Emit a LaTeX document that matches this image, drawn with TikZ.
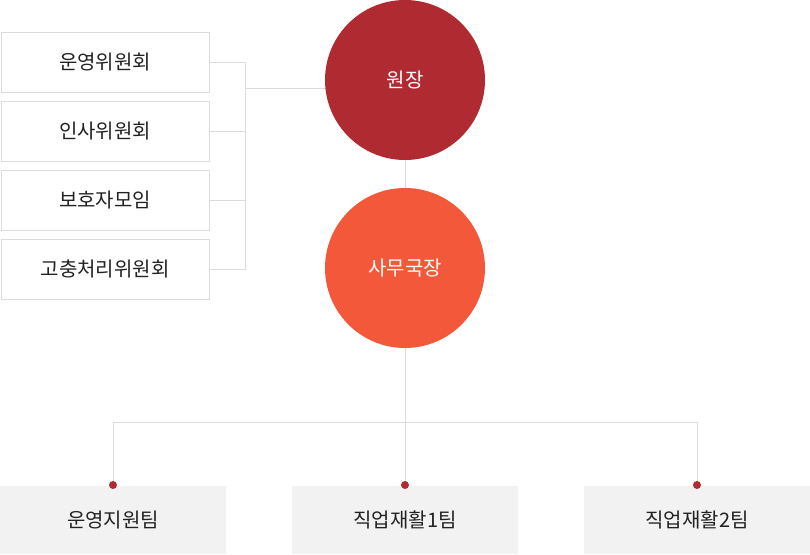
\documentclass[tikz,border=0pt]{standalone}
\usepackage{fontspec}
\setmainfont{Noto Sans CJK KR}
\usetikzlibrary{positioning}
\definecolor{chiefred}{HTML}{B02B31}
\definecolor{officeorange}{HTML}{F4583A}
\definecolor{linegray}{HTML}{DCDCDC}
\definecolor{teamgray}{HTML}{F2F2F2}
\definecolor{textdark}{HTML}{222222}
\tikzset{
  comitbox/.style={draw=linegray, line width=1pt, fill=white, minimum width=208pt, minimum height=60pt, inner sep=0pt, text=textdark, font=\fontsize{20}{24}\selectfont},
  headcircle/.style={circle, minimum size=160pt, inner sep=0pt, text=white, font=\fontsize{20}{24}\selectfont},
  teambox/.style={fill=teamgray, minimum width=226pt, minimum height=68pt, inner sep=0pt, text=textdark, font=\fontsize{20}{24}\selectfont},
  orgline/.style={draw=linegray, line width=1pt},
  reddot/.style={circle, fill=chiefred, minimum size=8pt, inner sep=0pt}
}
\begin{document}
\begin{tikzpicture}[x=1pt, y=-1pt]
                        \useasboundingbox (0,0) rectangle (810,554);
                        \coordinate (join) at (245,88);

                        \node[comitbox] (com1) at (105,62) {운영위원회};
                        \node[comitbox] (com2) at (105,131) {인사위원회};
                        \node[comitbox] (com3) at (105,200) {보호자모임};
                        \node[comitbox] (com4) at (105,269) {고충처리위원회};

                        \draw[orgline] (com1.east) -- (245,62) -- (245,269) -- (com4.east);
                        \draw[orgline] (com2.east) -- (245,131);
                        \draw[orgline] (com3.east) -- (245,200);
                        \draw[orgline] (join) -- (330,88);
                        \draw[orgline] (405,150) -- (405,200);
                        \draw[orgline] (405,340) -- (405,422);
                        \draw[orgline] (113,485) -- (113,422) -- (697,422) -- (697,485);
                        \draw[orgline] (405,422) -- (405,485);

                        \node[headcircle, fill=chiefred] (chief) at (405,80) {원장};
                        \node[headcircle, fill=officeorange] (office) at (405,268) {사무국장};

                        \node[teambox] (team1) at (113,520) {운영지원팀};
                        \node[teambox] (team2) at (405,520) {직업재활1팀};
                        \node[teambox] (team3) at (697,520) {직업재활2팀};

                        \node[reddot] (dot1) at (113,485) {};
                        \node[reddot] (dot2) at (405,485) {};
                        \node[reddot] (dot3) at (697,485) {};
                    \end{tikzpicture}
\end{document}
